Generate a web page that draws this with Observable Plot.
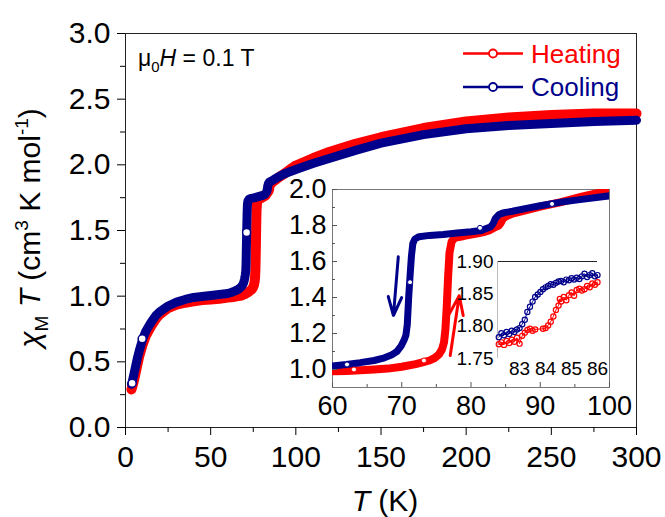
<!DOCTYPE html>
<html><head><meta charset="utf-8">
<script src="https://cdn.jsdelivr.net/npm/d3@7"></script>
<script src="https://cdn.jsdelivr.net/npm/@observablehq/plot@0.6"></script>
<style>
body{margin:0;background:#fff;}
#wrap{position:relative;width:665px;height:517px;overflow:hidden;font-family:"Liberation Sans",Arial,sans-serif;}
#wrap svg{position:absolute;}
</style></head><body><div id="wrap"></div>
<script>
// ---- main data: chi_M T vs T ----
const heatT = [3.5,4,5,6,7,8,10,12,15,18,20,25,30,35,40,45,50,55,60,62,64,66,68,70,72,73,74,74.8,75.4,75.8,76.1,76.3,76.5,76.7,76.9,77.2,77.6,78,79,80,81,82,82.6,83.2,83.6,84,84.3,84.6,85,85.5,86,88,90,93,96,100,110,120,135,150,175,200,225,250,275,300];
const heatV = [0.29,0.31,0.36,0.42,0.48,0.54,0.63,0.70,0.77,0.83,0.86,0.91,0.935,0.95,0.96,0.97,0.975,0.98,0.99,0.992,0.996,1.0,1.005,1.015,1.03,1.04,1.05,1.065,1.085,1.11,1.15,1.22,1.35,1.52,1.65,1.71,1.73,1.735,1.742,1.75,1.757,1.765,1.773,1.785,1.793,1.80,1.815,1.838,1.85,1.858,1.866,1.885,1.905,1.93,1.96,1.995,2.05,2.10,2.16,2.21,2.28,2.33,2.36,2.38,2.39,2.39];
const coolT = [3.5,4,5,6,7,8,10,12,15,18,20,25,30,35,40,45,50,55,60,62,64,66,67.5,68.5,69.3,69.9,70.3,70.6,70.8,71.0,71.2,71.4,71.6,71.9,72.5,74,76,78,80,81.5,82.2,82.8,83.2,83.5,84,84.5,85,86,88,90,93,96,100,110,120,135,150,175,200,225,250,275,300];
const coolV = [0.33,0.35,0.41,0.47,0.53,0.58,0.67,0.735,0.80,0.855,0.88,0.925,0.955,0.975,0.99,0.998,1.005,1.012,1.02,1.028,1.038,1.05,1.065,1.08,1.10,1.13,1.16,1.19,1.25,1.40,1.52,1.63,1.70,1.725,1.738,1.745,1.75,1.758,1.765,1.772,1.783,1.792,1.81,1.838,1.86,1.868,1.873,1.879,1.895,1.91,1.93,1.945,1.965,2.01,2.05,2.11,2.165,2.23,2.275,2.30,2.315,2.33,2.34];
// isolated open markers visible as white circles
const coolMarkT = [3.9,9.8,71.1];
const coolMarkV = [0.337,0.675,1.485];
const insetCoolMarkT = [62.1,71.2,81.3,91.7];
const insetCoolMarkV = [1.028,1.485,1.787,1.92];
const insetHeatMarkT = [63.1,73.2];
const insetHeatMarkV = [1.0,1.05];
// ---- inset arrows (annotation: from -> to) ----
const arrowSeries = ["Cooling","Heating"];
const arrowFromT = [69.5, 77.0];
const arrowFromV = [1.626, 1.078];
const arrowToT = [68.8, 78.3];
const arrowToV = [1.30, 1.41];
// ---- zoom (82-86 K) data ----
const zCoolT = [82.2,82.3,82.4,82.5,82.6,82.7,82.8,82.9,83.0,83.1,83.2,83.3,83.4,83.5,83.6,83.7,83.8,83.9,84.0,84.1,84.2,84.3,84.4,84.5,84.6,84.7,84.8,84.9,85.0,85.1,85.2,85.3,85.4,85.5,85.6,85.7,85.8,85.9,86.0];
const zCoolV = [1.783,1.789,1.786,1.791,1.788,1.793,1.791,1.795,1.797,1.803,1.81,1.822,1.83,1.838,1.845,1.849,1.853,1.857,1.86,1.862,1.865,1.864,1.867,1.869,1.87,1.868,1.872,1.871,1.874,1.872,1.875,1.873,1.877,1.881,1.876,1.879,1.882,1.877,1.879];
const zHeatT = [82.2,82.3,82.4,82.5,82.6,82.7,82.8,82.9,83.0,83.1,83.2,83.3,83.4,83.5,83.6,83.9,84.0,84.1,84.2,84.3,84.4,84.5,84.55,84.6,84.7,84.8,84.9,85.0,85.1,85.2,85.3,85.4,85.5,85.6,85.7,85.8,85.9,86.0];
const zHeatV = [1.772,1.775,1.771,1.777,1.774,1.779,1.776,1.782,1.773,1.785,1.79,1.794,1.796,1.793,1.795,1.796,1.797,1.801,1.807,1.815,1.825,1.832,1.842,1.838,1.845,1.84,1.848,1.852,1.847,1.856,1.858,1.855,1.857,1.862,1.86,1.866,1.864,1.868];
// ---- ticks ----
const mainXTicks = [0,50,100,150,200,250,300];
const mainXMinor = [25,75,125,175,225,275];
const mainYTicks = [0,0.5,1.0,1.5,2.0,2.5,3.0];
const mainYMinor = [0.25,0.75,1.25,1.75,2.25,2.75];
const insXTicks = [60,70,80,90,100];
const insXMinor = [65,75,85,95];
const insYTicks = [1.0,1.2,1.4,1.6,1.8,2.0];
const insYMinor = [1.1,1.3,1.5,1.7,1.9];
const zXTicks = [83,84,85,86];
const zYTicks = [1.75,1.80,1.85,1.90];

const RED = "#ff0000", BLUE = "#00008b";
const FONT = '"Liberation Sans", Arial, sans-serif';
const zip = (a,b) => a.map((t,i)=>({T:t, v:b[i]}));
const heat = zip(heatT, heatV), cool = zip(coolT, coolV);
const arrows = arrowSeries.map((s,i)=>({s, x1: arrowFromT[i], y1: arrowFromV[i], x2: arrowToT[i], y2: arrowToV[i]}));
const wrap = document.getElementById("wrap");

// ---------- main plot ----------
const main = Plot.plot({
  width: 665, height: 517,
  marginLeft: 125, marginRight: 29, marginTop: 33, marginBottom: 90,
  style: {background: "transparent", fontFamily: FONT, fontSize: "30px", color: "#000", overflow: "visible"},
  x: {domain: [0,300], label: null},
  y: {domain: [0,3], label: null},
  marks: [
    Plot.frame({stroke: "#222"}),
    Plot.axisX({ticks: mainXTicks, tickSize: 8, tickPadding: 10, label: null}),
    Plot.axisX({ticks: mainXMinor, tickSize: 5, tickFormat: () => "", label: null}),
    Plot.axisY({ticks: mainYTicks, tickSize: 8, tickPadding: 7, tickFormat: d => d.toFixed(1), label: null}),
    Plot.axisY({ticks: mainYMinor, tickSize: 5, tickFormat: () => "", label: null}),
    Plot.line(heat, {x: "T", y: "v", stroke: RED, strokeWidth: 10}),
    Plot.line(cool, {x: "T", y: "v", stroke: BLUE, strokeWidth: 9}),
    Plot.dot(zip(coolMarkT, coolMarkV), {x: "T", y: "v", r: 4, fill: "#fff", stroke: BLUE, strokeWidth: 1.5})
  ]
});
main.style.left = "0px"; main.style.top = "0px";
wrap.appendChild(main);

const ms = d3.select(main);
// y axis title
const yt = ms.append("text").attr("transform", "translate(40,228) rotate(-90)")
  .attr("text-anchor", "middle").attr("font-size", 30).attr("fill", "#000");
yt.append("tspan").attr("font-style", "italic").text("χ");
yt.append("tspan").attr("font-size", 19).attr("dy", 8).text("M");
yt.append("tspan").attr("dy", -8).text(" ");
yt.append("tspan").attr("font-style", "italic").text("T");
yt.append("tspan").text(" (cm");
yt.append("tspan").attr("font-size", 19).attr("dy", -12).text("3");
yt.append("tspan").attr("dy", 12).text(" K mol");
yt.append("tspan").attr("font-size", 19).attr("dy", -12).text("-1");
yt.append("tspan").attr("dy", 12).text(")");
// x axis title
const xt = ms.append("text").attr("x", 385).attr("y", 511).attr("text-anchor", "middle").attr("font-size", 30);
xt.append("tspan").attr("font-style", "italic").text("T");
xt.append("tspan").text(" (K)");
// field annotation
const fa = ms.append("text").attr("x", 138).attr("y", 66).attr("font-size", 23).attr("text-anchor", "start");
fa.append("tspan").text("μ");
fa.append("tspan").attr("font-size", 15).attr("dy", 6).text("0");
fa.append("tspan").attr("dy", -6).attr("font-style", "italic").text("H");
fa.append("tspan").text(" = 0.1 T");
// legend
[["Heating", RED, 53.5], ["Cooling", BLUE, 87]].forEach(([name, col, y]) => {
  ms.append("line").attr("x1", 463).attr("x2", 523).attr("y1", y).attr("y2", y).attr("stroke", col).attr("stroke-width", 2.5);
  ms.append("circle").attr("cx", 493).attr("cy", y).attr("r", 4).attr("fill", "#fff").attr("stroke", col).attr("stroke-width", 1.8);
  ms.append("text").attr("x", 531).attr("y", y + 9.3).attr("font-size", 26).attr("fill", col).attr("text-anchor", "start").text(name);
});

// ---------- inset (60-100 K) ----------
const inHeat = heat.filter(d => d.T >= 58 && d.T <= 102);
const inCool = cool.filter(d => d.T >= 58 && d.T <= 102);
const inset = Plot.plot({
  width: 335, height: 245,
  marginLeft: 52, marginRight: 6, marginTop: 12, marginBottom: 35,
  style: {background: "transparent", fontFamily: FONT, fontSize: "27px", color: "#000", overflow: "visible"},
  x: {domain: [60,100], label: null},
  y: {domain: [0.9,2.0], label: null},
  marks: [
    Plot.frame({fill: "#fff", stroke: "#777"}),
    Plot.line(inHeat, {x: "T", y: "v", stroke: RED, strokeWidth: 8, clip: true}),
    Plot.line(inCool, {x: "T", y: "v", stroke: BLUE, strokeWidth: 7, clip: true}),
    Plot.dot(zip(insetHeatMarkT, insetHeatMarkV), {x: "T", y: "v", r: 2.5, fill: "#fff", stroke: RED, strokeWidth: 1}),
    Plot.dot(zip(insetCoolMarkT, insetCoolMarkV), {x: "T", y: "v", r: 2.5, fill: "#fff", stroke: BLUE, strokeWidth: 1}),
    Plot.arrow(arrows, {x1: "x1", y1: "y1", x2: "x2", y2: "y2", stroke: d => d.s === "Cooling" ? BLUE : RED, strokeWidth: 3, headLength: 14, headAngle: 40}),
    Plot.axisX({ticks: insXTicks, tickSize: 0, tickPadding: 8, label: null}),
    Plot.axisX({ticks: insXTicks, tickSize: -5, tickFormat: () => "", label: null, stroke: "#555"}),
    Plot.axisX({ticks: insXMinor, tickSize: -3, tickFormat: () => "", label: null, stroke: "#555"}),
    Plot.axisY({ticks: insYTicks, tickSize: 0, tickPadding: 6, tickFormat: d => d.toFixed(1), label: null}),
    Plot.axisY({ticks: insYTicks, tickSize: -5, tickFormat: () => "", label: null, stroke: "#555"}),
    Plot.axisY({ticks: insYMinor, tickSize: -3, tickFormat: () => "", label: null, stroke: "#555"})
  ]
});
inset.style.left = "280.3px"; inset.style.top = "177px";
wrap.appendChild(inset);

// ---------- zoom inset (82-86 K) ----------
const zoom = Plot.plot({
  width: 151, height: 132,
  marginLeft: 45, marginRight: 6, marginTop: 10, marginBottom: 25,
  style: {background: "transparent", fontFamily: FONT, fontSize: "19px", color: "#000", overflow: "visible"},
  x: {domain: [82.15,86], label: null},
  y: {domain: [1.75,1.90], label: null},
  marks: [
    Plot.ruleY([1.90], {stroke: "#222"}),
    Plot.ruleX([82.15], {stroke: "#bbb"}),
    Plot.line(zip(zHeatT, zHeatV), {x: "T", y: "v", stroke: RED, strokeWidth: 1}),
    Plot.line(zip(zCoolT, zCoolV), {x: "T", y: "v", stroke: BLUE, strokeWidth: 1}),
    Plot.dot(zip(zHeatT, zHeatV), {x: "T", y: "v", r: 2.6, stroke: RED, strokeWidth: 1.2, fill: "none"}),
    Plot.dot(zip(zCoolT, zCoolV), {x: "T", y: "v", r: 2.6, stroke: BLUE, strokeWidth: 1.2, fill: "none"}),
    Plot.axisX({ticks: zXTicks, tickSize: 0, tickPadding: 3, tickFormat: d => d.toFixed(0), label: null}),
    Plot.axisY({ticks: zYTicks, tickSize: 0, tickPadding: 4, tickFormat: d => d.toFixed(2), label: null})
  ]
});
zoom.style.left = "451.7px"; zoom.style.top = "251px";
wrap.appendChild(zoom);
</script></body></html>
